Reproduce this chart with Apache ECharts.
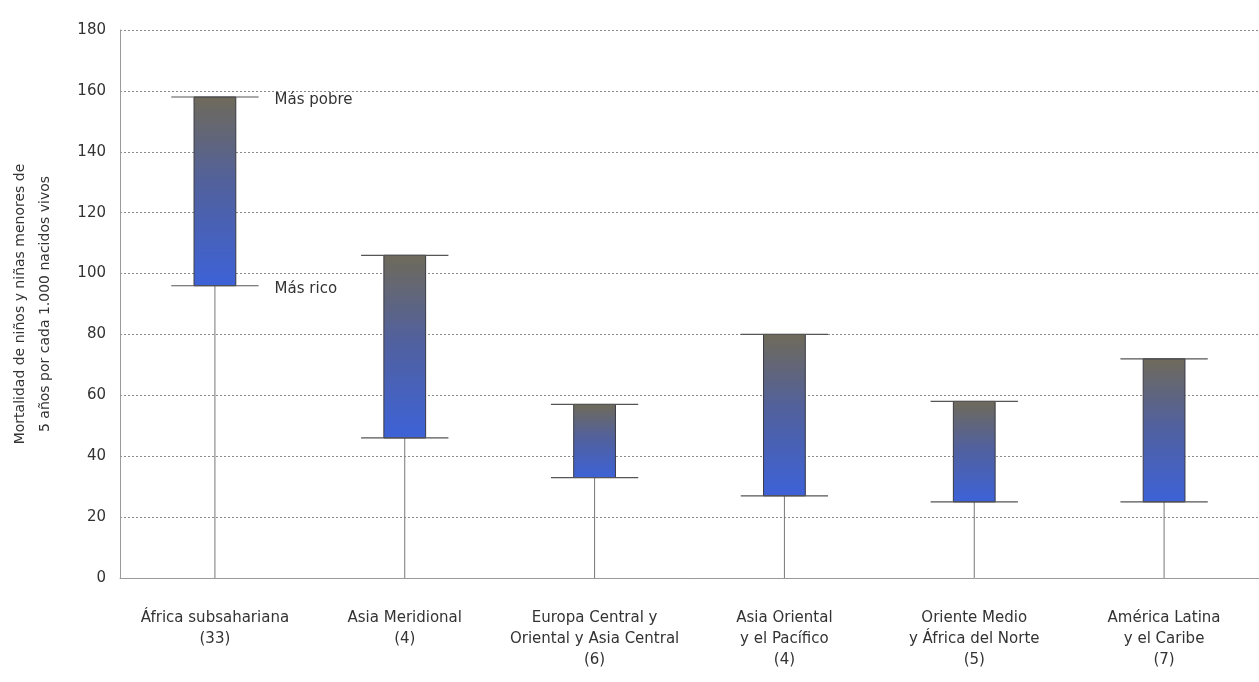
<!DOCTYPE html>
<html><head><meta charset="utf-8">
<script src="https://cdn.jsdelivr.net/npm/echarts@6/dist/echarts.min.js"></script>
<style>html,body{margin:0;padding:0;background:#fff}#c{width:1259px;height:682px}</style>
</head><body><div id="c"></div>
<script>
const categories = [
  'África subsahariana\n(33)',
  'Asia Meridional\n(4)',
  'Europa Central y\nOriental y Asia Central\n(6)',
  'Asia Oriental\ny el Pacífico\n(4)',
  'Oriente Medio\ny África del Norte\n(5)',
  'América Latina\ny el Caribe\n(7)'
];
const richest = [96, 46, 33, 27, 25, 25];
const poorest = [158, 106, 57, 80, 58, 72];
const yTicks = [0, 20, 40, 60, 80, 100, 120, 140, 160, 180];
const yTitle = 'Mortalidad de niños y niñas menores de\n5 años por cada 1.000 nacidos vivos';
const annotTop = 'Más pobre';
const annotBottom = 'Más rico';

const FONT = '"DejaVu Sans", "Liberation Sans", Arial, sans-serif';
const data = categories.map((c, i) => [i, richest[i], poorest[i]]);

const chart = echarts.init(document.getElementById('c'));
chart.setOption({
  animation: false,
  grid: { left: 120, right: 0, top: 30, bottom: 104, containLabel: false, outerBoundsMode: 'none' },
  xAxis: {
    type: 'category', data: categories,
    axisLine: { lineStyle: { color: '#9a9a9a' } },
    axisTick: { show: false },
    axisLabel: { color: '#333', fontFamily: FONT, fontSize: 15, lineHeight: 21, margin: 30, interval: 0 }
  },
  yAxis: {
    type: 'value', min: 0, max: 180, interval: 20,
    axisLine: { show: true, lineStyle: { color: '#9a9a9a' } },
    axisTick: { show: false },
    axisLabel: { color: '#333', fontFamily: FONT, fontSize: 15, margin: 14,
      formatter: v => yTicks.includes(v) ? String(v) : '' },
    splitLine: { show: true, lineStyle: { color: '#8a8a8a', type: [2, 2], width: 1 } },
    name: yTitle, nameLocation: 'middle', nameGap: 62, nameRotate: 90, nameMoveOverlap: false,
    nameTextStyle: { color: '#333', fontFamily: FONT, fontSize: 14, lineHeight: 25 }
  },
  series: [{
    type: 'custom',
    data: data,
    encode: { x: 0, y: [1, 2] },
    renderItem: function (params, api) {
      const i = api.value(0), lo = api.value(1), hi = api.value(2);
      const pZero = api.coord([i, 0]);
      const pLo = api.coord([i, lo]);
      const pHi = api.coord([i, hi]);
      const band = api.size([1, 0])[0];
      const bw = band * 0.22;
      const cw = band * 0.46;
      const x = pLo[0];
      const children = [
        { type: 'line', shape: { x1: x, y1: pZero[1], x2: x, y2: pLo[1] },
          style: { stroke: '#777', lineWidth: 1 } },
        { type: 'rect', shape: { x: x - bw / 2, y: pHi[1], width: bw, height: pLo[1] - pHi[1] },
          style: { fill: new echarts.graphic.LinearGradient(0, 0, 0, 1, [
            { offset: 0, color: '#6f6a5a' },
            { offset: 0.45, color: '#52619c' },
            { offset: 1, color: '#3d62d8' }
          ]), stroke: '#3a3a44', lineWidth: 1 } },
        { type: 'line', shape: { x1: x - cw / 2, y1: pHi[1], x2: x + cw / 2, y2: pHi[1] },
          style: { stroke: '#555', lineWidth: 1.2 } },
        { type: 'line', shape: { x1: x - cw / 2, y1: pLo[1], x2: x + cw / 2, y2: pLo[1] },
          style: { stroke: '#555', lineWidth: 1.2 } }
      ];
      if (i === 0) {
        children.push({ type: 'text', style: { text: annotTop, x: x + cw / 2 + 16, y: pHi[1] + 3,
          verticalAlign: 'middle', fill: '#333', font: '15px ' + FONT } });
        children.push({ type: 'text', style: { text: annotBottom, x: x + cw / 2 + 16, y: pLo[1] + 3,
          verticalAlign: 'middle', fill: '#333', font: '15px ' + FONT } });
      }
      return { type: 'group', children: children };
    }
  }]
});
</script>
</body></html>
